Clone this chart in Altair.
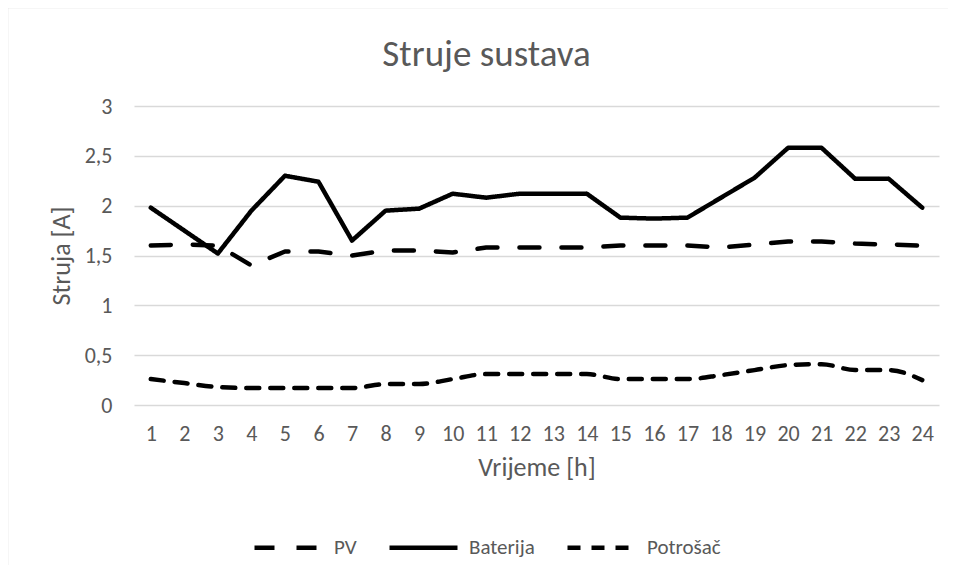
import altair as alt
import pandas as pd

hours = list(range(1, 25))
pv = [1.60, 1.61, 1.60, 1.40, 1.54, 1.54, 1.50, 1.55, 1.55, 1.53, 1.58, 1.58,
      1.58, 1.58, 1.60, 1.60, 1.60, 1.58, 1.61, 1.64, 1.64, 1.62, 1.61, 1.60]
baterija = [1.98, 1.75, 1.52, 1.95, 2.30, 2.24, 1.65, 1.95, 1.97, 2.12, 2.08, 2.12,
            2.12, 2.12, 1.88, 1.87, 1.88, 2.08, 2.28, 2.58, 2.58, 2.27, 2.27, 1.98]
potrosac = [0.26, 0.22, 0.18, 0.17, 0.17, 0.17, 0.17, 0.21, 0.21, 0.26, 0.31, 0.31,
            0.31, 0.31, 0.26, 0.26, 0.26, 0.30, 0.35, 0.40, 0.41, 0.35, 0.35, 0.25]
series_names = ["PV", "Baterija", "Potrošač"]
y_ticks = [0, 0.5, 1, 1.5, 2, 2.5, 3]

rows = []
for name, vals in zip(series_names, [pv, baterija, potrosac]):
    for h, v in zip(hours, vals):
        rows.append({"Sat": h, "Struja": v, "Serija": name})
df = pd.DataFrame(rows)

FONT = "Carlito, Calibri, Open Sans, sans-serif"
TXT = "#595959"
GRID = "#d9d9d9"

dash_scale = alt.Scale(domain=series_names, range=[[20, 22], [1, 0], [13, 11]])

base = alt.Chart(df).encode(
    x=alt.X("Sat:O", title="Vrijeme [h]",
            scale=alt.Scale(type="point", padding=0.5),
            axis=alt.Axis(labelAngle=0, domain=False, ticks=False, grid=False,
                          labelPadding=18, titlePadding=10)),
    y=alt.Y("Struja:Q", title="Struja [A]",
            scale=alt.Scale(domain=[0, 3]),
            axis=alt.Axis(values=y_ticks, domain=False, ticks=False, grid=True,
                          labelPadding=22, titlePadding=10,
                          labelExpr="replace(format(datum.value, '~g'), '.', ',')")),
    strokeDash=alt.StrokeDash("Serija:N", scale=dash_scale, title=None,
                              legend=alt.Legend(orient="none", legendX=118, legendY=405,
                                                direction="horizontal",
                                                symbolType="stroke", symbolSize=4624,
                                                symbolStrokeWidth=4.5,
                                                symbolStrokeColor="black",
                                                labelOffset=9, columnPadding=23,
                                                padding=0)),
    detail="Serija:N",
)

lines_linear = base.transform_filter(alt.datum.Serija != "Potrošač").mark_line(
    color="black", strokeWidth=4.5, strokeCap="round", strokeJoin="round")
lines_smooth = base.transform_filter(alt.datum.Serija == "Potrošač").mark_line(
    color="black", strokeWidth=4.5, strokeCap="round", strokeJoin="round",
    interpolate="monotone")

border_df = pd.DataFrame({"k": [0]})
top_border = alt.Chart(border_df).mark_rule(color=GRID, strokeWidth=1.5).encode(
    x=alt.value(-126.5), x2=alt.value(814), y=alt.value(-98.5))
left_border = alt.Chart(border_df).mark_rule(color=GRID, strokeWidth=1.5).encode(
    x=alt.value(-126.5), y=alt.value(-98.5), y2=alt.value(465))

chart = alt.layer(top_border, left_border, lines_linear, lines_smooth).properties(
    width=805, height=299,
    title=alt.TitleParams("Struje sustava", fontSize=37, font=FONT, color=TXT,
                          fontWeight="normal", anchor="middle", dx=-50, dy=67,
                          offset=0),
    autosize=alt.AutoSizeParams(type="none"),
    padding={"left": 126, "top": 98, "right": 9, "bottom": 160},
).configure(background="white").configure_view(stroke=None).configure_axis(
    labelFont=FONT, titleFont=FONT, labelColor=TXT, titleColor=TXT,
    labelFontSize=22, titleFontSize=26, titleFontWeight="normal",
    gridColor=GRID, gridWidth=1.3,
).configure_legend(
    labelFont=FONT, labelColor=TXT, labelFontSize=21, labelFontWeight="normal",
)

chart.save("out.html", embed_options={"renderer": "svg", "actions": False})
